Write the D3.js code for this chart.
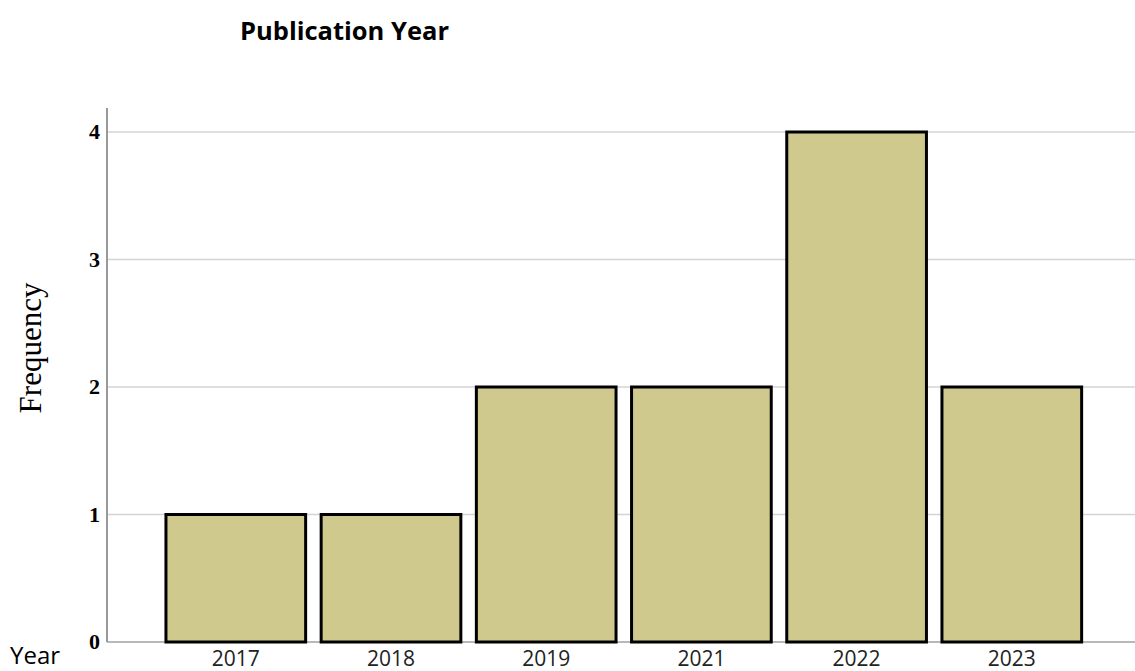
<!DOCTYPE html>
<html><head><meta charset="utf-8">
<script src="https://cdn.jsdelivr.net/npm/d3@7"></script>
<style>body{margin:0;background:#fff}</style>
</head><body>
<svg id="chart" width="1135" height="671"></svg>
<script>
const categories = ["2017","2018","2019","2021","2022","2023"];
const frequency = [1,1,2,2,4,2];
const yTicks = [0,1,2,3,4];

const svg = d3.select("#chart");
const x0 = 107, xRight = 1135, yBottom = 642, yTop = 132;
const y = d3.scaleLinear().domain([0,4]).range([yBottom, yTop]);
const x = d3.scaleBand().domain(categories).range([158.2, 1089.4]).paddingInner(0.1).paddingOuter(0.05);

// gridlines
svg.append("g").selectAll("line").data(yTicks.filter(d=>d>0)).join("line")
  .attr("x1", x0).attr("x2", xRight)
  .attr("y1", d=>y(d)).attr("y2", d=>y(d))
  .attr("stroke", "#d4d4d4").attr("stroke-width", 1.5);

// baseline
svg.append("line").attr("x1", x0).attr("x2", xRight).attr("y1", y(0)).attr("y2", y(0))
  .attr("stroke", "#a0a0a0").attr("stroke-width", 1.5);

// bars
svg.append("g").selectAll("rect").data(categories).join("rect")
  .attr("x", d=>x(d)).attr("width", x.bandwidth())
  .attr("y", (d,i)=>y(frequency[i])).attr("height", (d,i)=>y(0)-y(frequency[i]))
  .attr("fill", "#cfc98e").attr("stroke", "#000").attr("stroke-width", 3);

// y axis
const yAxis = d3.axisLeft(y).tickValues(yTicks).tickSize(0).tickPadding(7).tickFormat(d3.format("d"));
const gy = svg.append("g").attr("transform", `translate(${x0},0)`).call(yAxis);
gy.select(".domain").attr("stroke", "#999").attr("stroke-width", 2).attr("d", `M0,108V${yBottom}`);
gy.selectAll("text").style("font-family", "'Liberation Serif', serif").style("font-weight", "bold")
  .style("font-size", "22px").attr("fill", "#000").attr("dy", "0.3em");

// x axis
const xAxis = d3.axisBottom(x).tickSize(0).tickPadding(9);
const gx = svg.append("g").attr("transform", `translate(0,${yBottom})`).call(xAxis);
gx.select(".domain").remove();
gx.selectAll("text").style("font-family", "'Open Sans', sans-serif").style("font-size", "21px").attr("fill", "#222");

// title
svg.append("text").attr("x", 240).attr("y", 40).text("Publication Year")
  .attr("font-family", "'Open Sans', sans-serif").attr("font-weight", "bold").attr("font-size", 25.5).attr("fill", "#000");

// y label
svg.append("text").attr("transform", "translate(41,348) rotate(-90)").attr("text-anchor", "middle")
  .text("Frequency").attr("font-family", "'Liberation Serif', serif").attr("font-size", 31).attr("fill", "#000");

// x label
svg.append("text").attr("x", 10).attr("y", 664).text("Year")
  .attr("font-family", "'Open Sans', sans-serif").attr("font-size", 24).attr("fill", "#000");
</script>
</body></html>
